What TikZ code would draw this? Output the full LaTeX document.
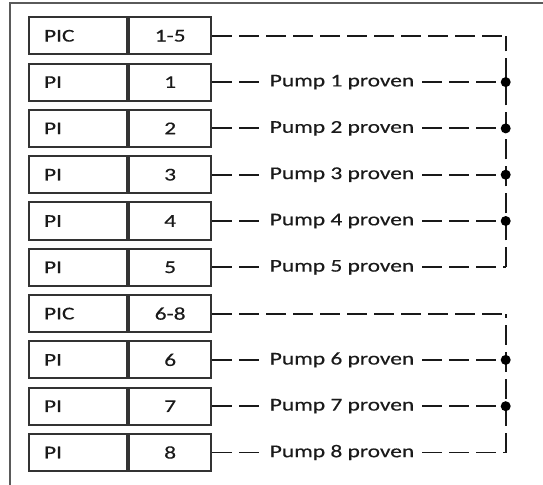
\documentclass[tikz,border=0pt]{standalone}
\usepackage{fontspec}
\setmainfont{Carlito}[FakeStretch=1.3, FakeBold=0.4]
\newcommand\fsz{\fontsize{18bp}{20bp}\selectfont}
\definecolor{boxc}{HTML}{333333}
\definecolor{framec}{HTML}{5A5A5A}
\definecolor{txtc}{HTML}{1A1A1A}
\tikzset{
  cellL/.style={draw=boxc, line width=2bp, rectangle, minimum height=37bp,
    text width=68bp, inner xsep=15bp, inner ysep=0pt, align=left, anchor=west,
    font=\fsz, text=txtc},
  cellR/.style={draw=boxc, line width=2bp, rectangle, minimum height=37bp,
    minimum width=82.3bp, inner xsep=0pt, inner ysep=0pt, anchor=west,
    font=\fsz, text=txtc},
  lbl/.style={inner xsep=8bp, inner ysep=0pt, font=\fsz, text=txtc},
  conn/.style={line width=1.8bp, draw=black!90, dash pattern=on 20bp off 7bp},
  jdot/.style={circle, fill=black, inner sep=0pt, minimum size=10bp},
  framel/.style={draw=framec, line width=2bp}
}
\begin{document}
\begin{tikzpicture}[x=1bp, y=-1bp]
\useasboundingbox (0,0) rectangle (543,485);
% frame (top and left edges)
\coordinate (fA) at (9.5,485);
\coordinate (fB) at (9.5,3.5);
\coordinate (fC) at (543,3.5);
\draw[framel] (fA) -- (fB) -- (fC);
% rows
\foreach \k/\a/\b in {0/PIC/1-5, 1/PI/1, 2/PI/2, 3/PI/3, 4/PI/4, 5/PI/5,
                      6/PIC/6-8, 7/PI/6, 8/PI/7, 9/PI/8}{
  \pgfmathsetmacro{\yy}{35.8+46.3*\k}
  \node[cellL] (L\k) at (28,\yy) {\a};
  \node[cellR] (R\k) at (L\k.east) {\b};
  \coordinate (J\k) at (505.7,\yy);
}
% pump labels
\foreach \k/\p in {1/1, 2/2, 3/3, 4/4, 5/5, 7/6, 8/7, 9/8}{
  \node[lbl] (P\k) at (342,{35.8+46.3*\k}) {Pump \p{} proven};
  \draw[conn] (R\k.east) -- (P\k.west);
  \draw[conn] (P\k.east) -- (J\k);
}
% group 1 bus
\draw[conn] (R0.east) -- (J0);
\draw[conn] (J5) -- (J0);
\foreach \k in {1,2,3,4}{
  \node[jdot] (D\k) at (J\k) {};
}
% group 2 bus
\draw[conn] (R6.east) -- (J6);
\draw[conn] (J9) -- (J6);
\foreach \k in {7,8}{
  \node[jdot] (D\k) at (J\k) {};
}
\end{tikzpicture}
\end{document}
